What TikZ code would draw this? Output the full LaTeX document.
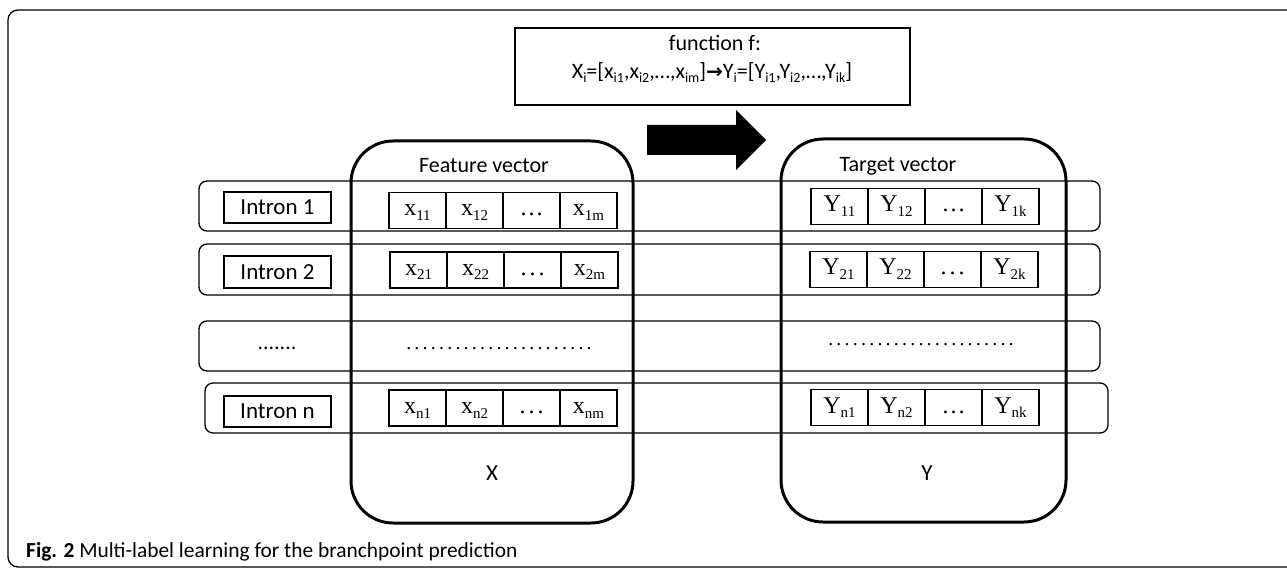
\documentclass[tikz,border=0pt]{standalone}
\usepackage{fontspec}
\setmainfont{Carlito}
\newfontfamily\tms{Liberation Serif}
\newfontfamily\djv{DejaVu Sans}
\newcommand\sx[2]{#1\raisebox{-4.5pt}{\fontsize{15}{15}\selectfont #2}}
\newcommand\sbs[1]{\raisebox{-4pt}{\fontsize{14}{14}\selectfont #1}}
\newcommand\dd{.\kern3.2pt}
\newcommand\crow[7]{%
 \node[cell, anchor=west] (#1a) at (#2,#3) {#4};
 \node[cell, anchor=west] (#1b) at (#1a.east) {#5};
 \node[cell, anchor=west] (#1c) at (#1b.east) {#6};
 \node[cell, anchor=west] (#1d) at (#1c.east) {#7};}
\begin{document}
\begin{tikzpicture}[x=1pt,y=-1pt,
 frame/.style={draw, line width=1.3pt, rounded corners=10pt, inner sep=0pt},
 band/.style={draw, line width=1.3pt, rounded corners=8pt, inner sep=0pt, outer sep=0pt},
 col/.style={draw, line width=3pt, rounded corners=42pt, inner sep=0pt},
 ibox/.style={draw, line width=2pt, minimum width=107pt, minimum height=31pt, inner sep=0pt, font=\fontsize{23}{23}\selectfont},
 cell/.style={draw, line width=1.6pt, minimum width=57pt, minimum height=36pt, inner sep=0pt, outer sep=0pt, text height=14pt, text depth=3pt, font=\tms\fontsize{24}{24}\selectfont},
 lab/.style={font=\fontsize{22}{22}\selectfont, inner sep=0pt},
 dotline/.style={font=\tms\fontsize{20}{20}\selectfont, inner sep=0pt}]
\useasboundingbox (0,0) rectangle (1287,569);
\node[frame, minimum width=1302pt, minimum height=557pt] (outer) at (659,288.5) {};
% function box
\node[draw, line width=1.8pt, minimum width=395pt, minimum height=77pt, inner sep=0pt] (fbox) at (712.5,66.5) {};
\node[lab] (fl1) at (715,43) {function f:};
\node[lab] (fl2) at (712,73) {X\sbs{i}=[x\sbs{i1},x\sbs{i2},…,x\sbs{im}]{\djv\bfseries\fontsize{20}{20}\selectfont →}Y\sbs{i}=[Y\sbs{i1},Y\sbs{i2},…,Y\sbs{ik}]};
% big arrow
\fill (647,125) -- (736,125) -- (736,110) -- (766,140) -- (736,170) -- (736,155) -- (647,155) -- cycle;
% row bands
\node[band, minimum width=901pt, minimum height=50pt] (r1) at (649.5,206) {};
\node[band, minimum width=901pt, minimum height=51pt] (r2) at (649.5,269.5) {};
\node[band, minimum width=901pt, minimum height=50pt] (r3) at (649.5,346) {};
\node[band, minimum width=903pt, minimum height=50pt] (r4) at (656.5,408) {};
% columns
\node[col, minimum width=282pt, minimum height=382pt] (fc) at (492,332) {};
\node[col, minimum width=285pt, minimum height=383pt] (tc) at (923.5,330.5) {};
\node[lab] (fvl) at (484,166) {Feature vector};
\node[lab] (tvl) at (898,166) {Target vector};
% introns
\node[ibox] (i1) at (277.5,207.5) {Intron 1};
\node[ibox] (i2) at (277.5,272) {Intron 2};
\node[ibox] (i3) at (277.5,411) {Intron n};
\node[lab] (idots) at (277,348) {.......};
% feature cells
\crow{fa}{389}{210.5}{\sx{x}{11}}{\sx{x}{12}}{…}{\sx{x}{1m}}
\crow{fb}{390}{270}{\sx{x}{21}}{\sx{x}{22}}{.\kern3pt.\kern3pt.}{\sx{x}{2m}}
\crow{fn}{389}{408}{\sx{x}{n1}}{\sx{x}{n2}}{.\kern3pt.\kern3pt.}{\sx{x}{nm}}
% target cells
\crow{ta}{811}{206.5}{\sx{Y}{11}}{\sx{Y}{12}}{…}{\sx{Y}{1k}}
\crow{tb}{810}{269.5}{\sx{Y}{21}}{\sx{Y}{22}}{.\kern3pt.\kern3pt.}{\sx{Y}{2k}}
\crow{tn}{811}{407.5}{\sx{Y}{n1}}{\sx{Y}{n2}}{…}{\sx{Y}{nk}}
% dotted rows
\node[dotline] (fdots) at (499,349) {\dd\dd\dd\dd\dd\dd\dd\dd\dd\dd\dd\dd\dd\dd\dd\dd\dd\dd\dd\dd\dd\dd.};
\node[dotline] (tdots) at (921,345) {\dd\dd\dd\dd\dd\dd\dd\dd\dd\dd\dd\dd\dd\dd\dd\dd\dd\dd\dd\dd\dd\dd.};
% column labels
\node[lab, font=\fontsize{23}{23}\selectfont] (xl) at (492,473) {X};
\node[lab, font=\fontsize{23}{23}\selectfont] (yl) at (927,473) {Y};
% caption
\node[anchor=base west, inner sep=0pt, font=\fontsize{21.4}{21.4}\selectfont] (cap) at (26,557) {\textbf{Fig. 2} Multi-label learning for the branchpoint prediction};
\end{tikzpicture}
\end{document}
